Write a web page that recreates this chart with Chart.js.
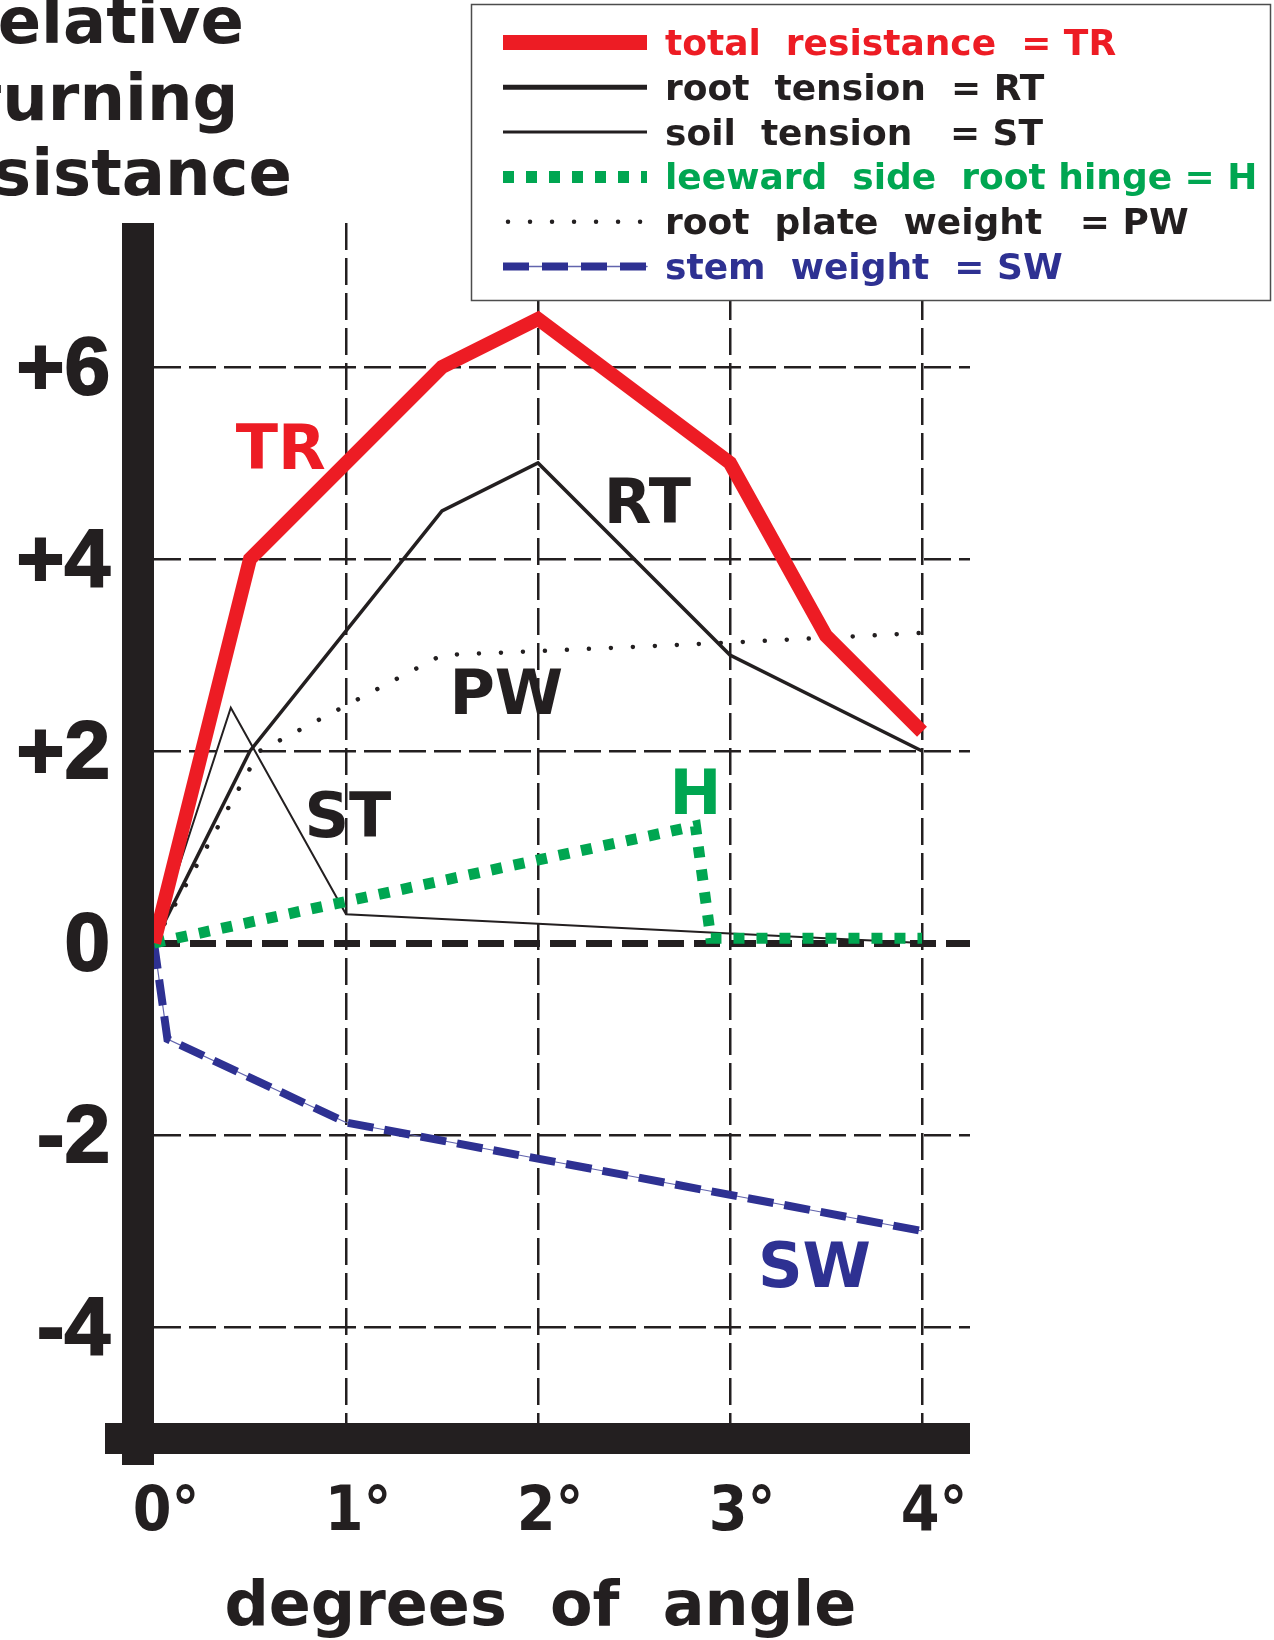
<!DOCTYPE html>
<html><head><meta charset="utf-8">
<script src="https://cdn.jsdelivr.net/npm/chart.js@4.4.1/dist/chart.umd.min.js"></script>
<style>html,body{margin:0;padding:0;background:#fff;}#wrap{width:1274px;height:1640px;position:relative;}</style>
</head><body><div id="wrap"><canvas id="c" width="1274" height="1640"></canvas></div>
<script>
// ---- data ----
const X_TICKS = [0, 1, 2, 3, 4];
const X_TICK_LABELS = ['0°', '1°', '2°', '3°', '4°'];
const Y_TICKS = [-4, -2, 0, 2, 4, 6];
const Y_TICK_LABELS = ['-4', '-2', '0', '+2', '+4', '+6'];

const TR_DEG = [0, 0.5, 1.5, 2, 3, 3.5, 4];
const TR_VAL = [0, 4.0, 6.0, 6.5, 5.0, 3.2, 2.2];
const RT_DEG = [0, 0.5, 1.5, 2, 3, 4];
const RT_VAL = [0, 2.0, 4.5, 5.0, 3.0, 2.0];
const ST_DEG = [0, 0.4, 1, 2, 3, 4];
const ST_VAL = [0, 2.45, 0.3, 0.2, 0.1, 0.0];
const H_DEG = [0, 2.82, 2.9, 4];
const H_VAL = [0, 1.22, 0.05, 0.05];
const PW_DEG = [0, 0.55, 1.5, 2, 3, 4];
const PW_VAL = [0, 2.0, 3.0, 3.04, 3.13, 3.23];
const SW_DEG = [0, 0.07, 1, 4];
const SW_VAL = [0, -1.0, -1.87, -3.0];

const TAG_TEXT = ['TR', 'RT', 'ST', 'PW', 'H', 'SW'];
const TAG_DEG = [0.66, 2.57, 1.01, 1.835, 2.82, 3.44];
const TAG_VAL = [4.94, 4.375, 1.10, 2.385, 1.344, -3.58];

const LEGEND_TEXT = [
  'total  resistance  = TR',
  'root  tension  = RT',
  'soil  tension   = ST',
  'leeward  side  root hinge = H',
  'root  plate  weight   = PW',
  'stem  weight  = SW'
];
const X_TITLE = 'degrees  of  angle';
const Y_TITLE = ['relative', 'turning', 'resistance'];

// ---- styles ----
const INK = '#231f20', RED = '#ed1c24', GREEN = '#00a651', BLUE = '#2e3192', BLUE_THIN = '#6264ad';
const HEAVY = "'DejaVu Sans', sans-serif";
const COND = "'DejaVu Sans Condensed', 'DejaVu Sans', sans-serif";
const ARIAL = "'Liberation Sans', Arial, sans-serif";

const pts = (xs, ys) => xs.map((x, i) => ({ x: x, y: ys[i] }));
const base = { pointRadius: 0, tension: 0, fill: false, borderJoinStyle: 'miter' };

const datasets = [
  Object.assign({ label: 'TR', data: pts(TR_DEG, TR_VAL), borderColor: RED, borderWidth: 14 }, base),
  Object.assign({ label: 'H', data: pts(H_DEG, H_VAL), borderColor: GREEN, borderWidth: 11, borderDash: [11, 12] }, base),
  Object.assign({ label: 'RT', data: pts(RT_DEG, RT_VAL), borderColor: INK, borderWidth: 3.5 }, base),
  Object.assign({ label: 'ST', data: pts(ST_DEG, ST_VAL), borderColor: INK, borderWidth: 2 }, base),
  Object.assign({ label: 'PW', data: pts(PW_DEG, PW_VAL), borderColor: INK, borderWidth: 4.5, borderDash: [0.01, 22], borderCapStyle: 'round' }, base),
  Object.assign({ label: 'SW', data: pts(SW_DEG, SW_VAL), borderColor: BLUE, borderWidth: 8, borderDash: [26, 11] }, base),
  Object.assign({ label: 'SW-core', data: pts(SW_DEG, SW_VAL), borderColor: BLUE_THIN, borderWidth: 1.2 }, base)
];

const LEGEND_ITEMS = [
  { ds: 'TR', color: RED, width: 15 },
  { ds: 'RT', color: INK, width: 5 },
  { ds: 'ST', color: INK, width: 3 },
  { ds: 'H', color: GREEN, width: 12 },
  { ds: 'PW', color: INK, width: 4.5 },
  { ds: 'SW', color: BLUE, width: 8 }
];
const TAG_COLORS = [RED, INK, INK, INK, GREEN, BLUE];

const decor = {
  id: 'decor',
  beforeDatasetsDraw(chart) {
    const { ctx, chartArea: a } = chart;
    ctx.save();
    ctx.fillStyle = INK;
    ctx.fillRect(a.left - 32, a.top, 32, a.bottom - a.top + 42);
    ctx.fillRect(a.left - 49, a.bottom, a.right - a.left + 49, 31);
    ctx.restore();
  },
  afterDatasetsDraw(chart) {
    const { ctx } = chart;
    const xs = chart.scales.x, ys = chart.scales.y;
    ctx.save();
    ctx.font = 'bold 62px ' + HEAVY;
    ctx.textAlign = 'center';
    ctx.textBaseline = 'alphabetic';
    TAG_TEXT.forEach((t, i) => {
      ctx.fillStyle = TAG_COLORS[i];
      ctx.fillText(t, xs.getPixelForValue(TAG_DEG[i]), ys.getPixelForValue(TAG_VAL[i]));
    });
    ctx.restore();
  },
  afterDraw(chart) {
    const { ctx } = chart;
    ctx.save();
    // y title
    ctx.font = 'bold 64px ' + HEAVY;
    ctx.fillStyle = INK;
    ctx.textAlign = 'center';
    ctx.textBaseline = 'alphabetic';
    const yb = [43, 120, 195];
    Y_TITLE.forEach((t, i) => ctx.fillText(t, 105, yb[i]));
    // legend box
    ctx.fillStyle = '#fff';
    ctx.fillRect(471.5, 4.5, 799, 296);
    ctx.strokeStyle = '#4d4d4d';
    ctx.lineWidth = 1.5;
    ctx.strokeRect(471.5, 4.5, 799, 296);
    ctx.font = 'bold 36px ' + HEAVY;
    ctx.textAlign = 'left';
    LEGEND_ITEMS.forEach((it, i) => {
      const ds = chart.data.datasets.find(d => d.label === it.ds);
      const y = 42.5 + i * 44.8;
      if (it.ds === 'SW') {
        ctx.setLineDash([]);
        ctx.strokeStyle = BLUE_THIN; ctx.lineWidth = 1.5;
        ctx.beginPath(); ctx.moveTo(504, y); ctx.lineTo(647, y); ctx.stroke();
      }
      ctx.setLineDash(ds.borderDash ? (it.ds === 'SW' ? [26, 13] : ds.borderDash) : []);
      ctx.lineCap = ds.borderCapStyle || 'butt';
      ctx.strokeStyle = it.color;
      ctx.lineWidth = it.width;
      ctx.beginPath();
      ctx.moveTo(it.ds === 'PW' ? 508 : 503, y);
      ctx.lineTo(647, y);
      ctx.stroke();
      ctx.setLineDash([]);
      ctx.fillStyle = it.color;
      ctx.fillText(LEGEND_TEXT[i], 665, y + 12.5);
    });
    ctx.restore();
  }
};

new Chart(document.getElementById('c'), {
  type: 'line',
  data: { datasets: datasets },
  plugins: [decor],
  options: {
    responsive: false,
    animation: false,
    devicePixelRatio: 1,
    layout: { padding: { top: 223, right: 304, bottom: 0, left: 0 } },
    plugins: { legend: { display: false }, tooltip: { enabled: false } },
    scales: {
      x: {
        type: 'linear', min: 0, max: 4.25,
        afterBuildTicks: s => { s.ticks = X_TICKS.map(v => ({ value: v })); },
        afterFit: s => { s.height = 217; s.paddingLeft = 0; s.paddingRight = 0; },
        grid: {
          color: c => (c.tick && c.tick.value === 0) ? 'rgba(0,0,0,0)' : INK,
          lineWidth: 2.5, drawTicks: false
        },
        border: { display: false, dash: [27, 8] },
        ticks: {
          callback: v => X_TICK_LABELS[X_TICKS.indexOf(v)],
          font: { family: COND, size: 62, weight: 'bold' },
          color: INK, padding: 54, labelOffset: 12, maxRotation: 0, autoSkip: false
        },
        title: {
          display: true, text: X_TITLE + '  ', color: INK, padding: 0,
          font: { family: HEAVY, size: 62, weight: 'bold', lineHeight: 1 }
        }
      },
      y: {
        type: 'linear', min: -5, max: 7.5,
        afterBuildTicks: s => { s.ticks = Y_TICKS.map(v => ({ value: v })); },
        afterFit: s => { s.width = 154; s.paddingTop = 0; s.paddingBottom = 0; },
        grid: {
          color: INK,
          lineWidth: c => (c.tick && c.tick.value === 0) ? 7 : 2.5,
          drawTicks: false
        },
        border: { display: false, dash: c => (c.tick && c.tick.value === 0) ? [26, 10] : [27, 8] },
        ticks: {
          callback: v => Y_TICK_LABELS[Y_TICKS.indexOf(v)],
          font: { family: ARIAL, size: 82, weight: 'bold' },
          color: INK, padding: 44, labelOffset: 4,
          textStrokeColor: INK, textStrokeWidth: 2
        }
      }
    }
  }
});
</script>
</body></html>
